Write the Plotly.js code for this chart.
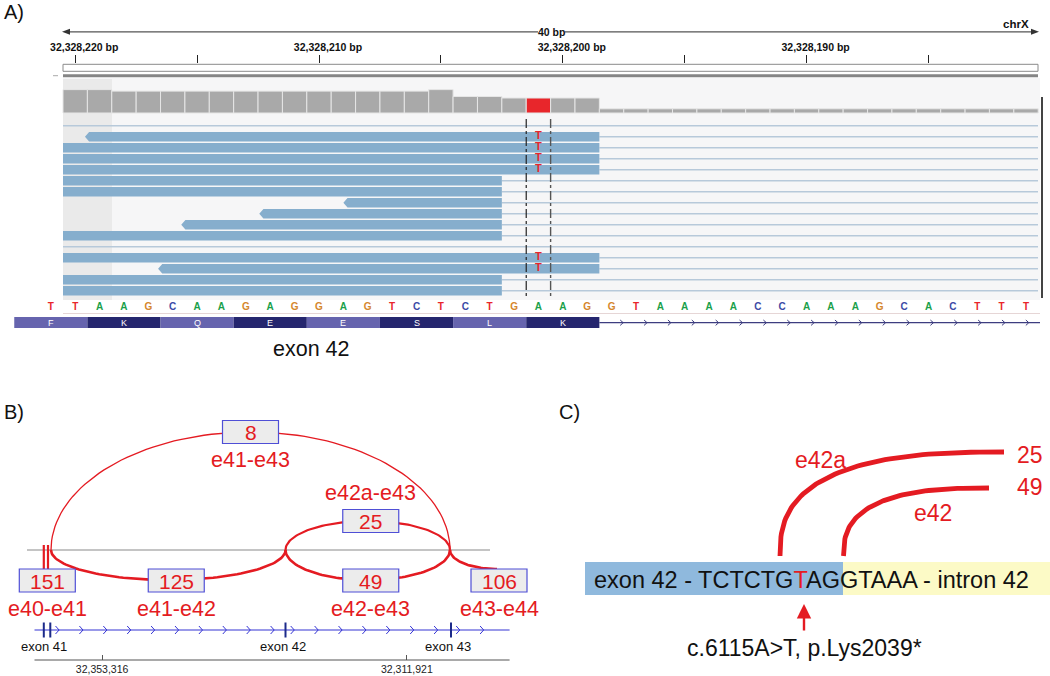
<!DOCTYPE html>
<html>
<head>
<meta charset="utf-8">
<script src="https://cdn.plot.ly/plotly-3.0.1.min.js"></script>
<style>html,body{margin:0;padding:0;background:#fff;}#chart{width:1050px;height:676px;}</style>
</head>
<body>
<div id="chart"></div>
<script>
// ================= DATA =================
// Panel A – IGV view of chrX (reverse strand, left = higher coordinate)
const covStart = 32328220;                       // leftmost full base of the window
const coverage = [78,78,73,73,73,73,73,73,73,73,73,73,73,73,73,78,55,55,50,50,50,50,
                  14,14,14,14,14,14,14,14,14,14,14,14,14,14,14,14,14,14];
const variantPos = 32328201;                     // c.6115A>T
const variantBase = "T";
const refSeqStart = 32328221;
const refSeq = "TTAAGCAAGAGGAGTCTCTGAAGGTAAAACCAAAGCACTTT";
const codonStart = 32328222;
const aminoAcids = ["F","K","Q","E","E","S","L","K"];
const exonLabelA = "exon 42";
const readRows   = [1,2,3,4,5,6,7,8,9,10,12,13,14,15];
const readStarts = [32328219.6,32328250,32328250,32328250,32328250,32328250,32328209.0,
                    32328212.45,32328215.65,32328250,32328250,32328216.6,32328250,32328250];
const readEnds   = [32328198.5,32328198.5,32328198.5,32328198.5,32328202.5,32328202.5,32328202.5,
                    32328202.5,32328202.5,32328202.5,32328198.5,32328198.5,32328202.5,32328202.5];
const mismatchRows = [1,2,3,4,12,13];
const readRowCount = 16;

// Panel B – sashimi of exons 40-44
const junctionNames = ["e40-e41","e41-e42","e41-e43","e42a-e43","e42-e43","e43-e44"];
const junctionReads = [151,125,8,25,49,106];
const junctionFrom  = [null,32360256,32360256,32328409,32328409,32306068];
const junctionTo    = [32360256,32328409,32306068,32306068,32306068,null];
const exonNames     = ["exon 41","exon 42","exon 43"];
const exonPositions = [32360800,32328409,32305932];
const exonMarks     = [32361234,32360351,32328409,32305932];
const geneSpan      = [32362497,32297975];
const scaleTicks    = [32353316,32311921];

// Panel C – donor sites
const seqLeft = "exon 42 - TCTCTG";
const seqVariant = "T";
const seqRight = "AGGTAAA - intron 42";
const isoformNames = ["e42a","e42"];
const isoformReads = [junctionReads[3], junctionReads[4]];
const variantLabel = "c.6115A>T, p.Lys2039*";

// ================= LAYOUT HELPERS =================
const W = 1050, H = 676;
const FONT = "Liberation Sans, Arial, Helvetica, sans-serif";
const RED = "#e41b22";
// axis calibration (pixel geometry of the reference)
const A_PX0 = 75.2, A_PXBP = 24.38;
const gA = p => covStart - (p - A_PX0) / A_PXBP;
const B_PX0 = 102.1, B_BPPX = 135.81, B_G0 = scaleTicks[0];
const gB = p => B_G0 - (p - B_PX0) * B_BPPX;
const pB = g => B_PX0 + (B_G0 - g) / B_BPPX;
const panelLeftG = gA(63), panelRightG = gA(1038);
const covPerPx = 110 / 33, covBase = 113;
const rowPx0 = 125.7, rowPitch = 11;

const traces = [];
const shapes = [];
const annotations = [];
const px = p => p / W, py = p => 1 - p / H;

function txt(text, x, y, size, color, o) {
  return Object.assign({text, x, y, xref:'x3', yref:'y3', showarrow:false,
    font:{family:FONT, size, color}, xanchor:'center', yanchor:'middle'}, o || {});
}
function prect(x0, y0, x1, y1, fill, line, o) {
  return Object.assign({type:'rect', xref:'x3', yref:'y3', x0, y0, x1, y1, fillcolor:fill,
    line: line || {width:0}}, o || {});
}
function pline(x0, y0, x1, y1, color, width, o) {
  return Object.assign({type:'line', xref:'x3', yref:'y3', x0, y0, x1, y1, line:{color, width}}, o || {});
}

// ================= PANEL A =================
annotations.push(txt("A)", 2, 12, 20, "#111", {xanchor:'left'}));
// backgrounds
shapes.push({type:'rect', xref:'paper', yref:'paper', x0:px(63), x1:px(1040), y0:py(300), y1:py(78),
  fillcolor:'#f6f6f7', line:{width:0}, layer:'below'});
shapes.push({type:'rect', xref:'paper', yref:'paper', x0:px(63), x1:px(112), y0:py(300), y1:py(79),
  fillcolor:'#eaeaea', line:{width:0}, layer:'below'});
// ruler
shapes.push(pline(66, 31.8, 538, 31.8, '#555', 1.3));
shapes.push(pline(565, 31.8, 1034, 31.8, '#555', 1.3));
shapes.push({type:'path', xref:'x3', yref:'y3', path:'M 62 31.8 L 70 28.8 L 70 34.8 Z', fillcolor:'#333', line:{width:0}});
shapes.push({type:'path', xref:'x3', yref:'y3', path:'M 1039 31.8 L 1031 28.8 L 1031 34.8 Z', fillcolor:'#333', line:{width:0}});
annotations.push(txt("40 bp", 551, 31.5, 10.5, '#111', {font:{family:FONT,size:10.5,color:'#111',weight:'bold'}}));
annotations.push(txt("chrX", 1031, 23.5, 11.5, '#111', {xanchor:'right', font:{family:FONT,size:11.5,color:'#111',weight:'bold'}}));
shapes.push(prect(63, 64.3, 1038, 71.3, '#fff', {color:'#8a8a8a', width:1}));
shapes.push(pline(63, 75.7, 1038, 75.7, '#858585', 3));
shapes.push(pline(53, 75.7, 58, 75.7, '#aaa', 1));
// right edge bar
shapes.push(pline(1042, 97, 1042, 298, '#444', 2));

// coverage
traces.push({type:'bar', x: coverage.map((_, i) => covStart - i), y: coverage, width: 1,
  marker:{color: coverage.map((_, i) => (covStart - i === variantPos) ? '#e8262b' : '#a9a9a9'),
          line:{color:'#e6e6e6', width:1}},
  xaxis:'x', yaxis:'y', hoverinfo:'skip'});

// thin (spliced) lines per row
{
  const lx = [], ly = [];
  for (let r = 0; r < readRowCount; r++) {
    let right = panelLeftG;
    readRows.forEach((rr, i) => { if (rr === r) right = Math.min(right, readEnds[i]); });
    lx.push(right, panelRightG, null); ly.push(r, r, null);
  }
  traces.push({type:'scatter', mode:'lines', x:lx, y:ly, line:{color:'#b7c9da', width:1.6},
    xaxis:'x', yaxis:'y2', hoverinfo:'skip'});
}
// reads
{
  const rx = [], ry = [], h = 0.43;
  readRows.forEach((r, i) => {
    const s = readStarts[i], e = readEnds[i];
    if (s >= panelLeftG) {
      const L = panelLeftG;
      rx.push(L, e, e, L, L, null); ry.push(r - h, r - h, r + h, r + h, r - h, null);
    } else {
      const b = s - 0.17;
      rx.push(s, b, e, e, b, s, null); ry.push(r, r - h, r - h, r + h, r + h, r, null);
    }
  });
  traces.push({type:'scatter', mode:'lines', x:rx, y:ry, fill:'toself', fillcolor:'#86aecd',
    line:{width:0, color:'#86aecd'}, xaxis:'x', yaxis:'y2', hoverinfo:'skip'});
}
// mismatches
traces.push({type:'scatter', mode:'text', x: mismatchRows.map(() => variantPos), y: mismatchRows,
  text: mismatchRows.map(() => variantBase),
  textfont:{family:FONT, size:11, color:'#e8262b', weight:'bold'}, xaxis:'x', yaxis:'y2', hoverinfo:'skip'});
// variant dashed guides
shapes.push({type:'line', xref:'x', yref:'y3', x0:variantPos + 0.5, x1:variantPos + 0.5, y0:119, y1:298,
  line:{color:'#222', width:1.2, dash:'dashdot'}});
shapes.push({type:'line', xref:'x', yref:'y3', x0:variantPos - 0.5, x1:variantPos - 0.5, y0:119, y1:298,
  line:{color:'#555', width:1.4, dash:'dashdot'}});

// reference sequence
const baseColors = {A:'#1a9f4a', C:'#3b4aa6', G:'#d5862c', T:'#e8262b'};
traces.push({type:'scatter', mode:'text', x: refSeq.split('').map((_, j) => refSeqStart - j),
  y: refSeq.split('').map(() => 307.5), text: refSeq.split(''),
  textfont:{family:FONT, size:10, weight:'bold', color: refSeq.split('').map(b => baseColors[b])},
  xaxis:'x', yaxis:'y3', hoverinfo:'skip'});
shapes.push(pline(63, 313.5, 1040, 313.5, '#e6d6d6', 1));
// translated gene track
aminoAcids.forEach((aa, i) => {
  const x0 = codonStart + 0.5 - 3 * i, x1 = codonStart + 0.5 - 3 * (i + 1);
  shapes.push({type:'rect', xref:'x', yref:'y3', x0, x1, y0:317, y1:328,
    fillcolor: i % 2 ? '#25266e' : '#6664ae', line:{width:0}});
  annotations.push({text:aa, x: codonStart - 1 - 3 * i, y:322.5, xref:'x', yref:'y3', showarrow:false,
    font:{family:FONT, size:9, color:'#fff'}});
});
{
  const lineStart = codonStart + 0.5 - 3 * aminoAcids.length;
  traces.push({type:'scatter', mode:'lines', x:[lineStart, gA(1040)], y:[322.7, 322.7],
    line:{color:'#3d3d80', width:1.2}, xaxis:'x', yaxis:'y3', hoverinfo:'skip'});
  const cx = [], cy = [];
  for (let p = 621.7; p < 1032; p += 23.86) {
    cx.push(p - 1.5, p + 1.5, p - 1.5, null); cy.push(320, 322.7, 325.4, null);
  }
  traces.push({type:'scatter', mode:'lines', x:cx, y:cy, line:{color:'#3d3d80', width:1},
    xaxis:'x3', yaxis:'y3', hoverinfo:'skip'});
}
annotations.push(txt(exonLabelA, 311, 349, 21.5, '#111'));

// ================= PANEL B =================
annotations.push(txt("B)", 2, 412, 20, '#111', {xanchor:'left'}));
shapes.push({type:'line', xref:'paper', yref:'paper', x0:px(27), x1:px(490), y0:py(550), y1:py(550),
  line:{color:'#b0b0b0', width:1.3}, layer:'below'});
const jStyle = [
  {boxPx:47.3, boxY:580.5, labelY:608.6, w:2.2, shift:0},
  {amp:30,   boxY:580.5, labelY:608.6, w:2.6, shift:8},
  {amp:-118, boxY:432,   labelY:460,   w:1.3, shift:0},
  {amp:-29,  boxY:521,   labelY:493,   w:2.2, shift:3},
  {amp:30,   boxY:580.5, labelY:608.6, w:2.6, shift:3},
  {boxPx:499, boxY:580.5, labelY:608.6, w:2.6, shift:0}
];
const baseY = 550;
junctionNames.forEach((name, i) => {
  const st = jStyle[i];
  const f = junctionFrom[i], t = junctionTo[i];
  let boxG;
  const ax = [], ay = [];
  if (f !== null && t !== null) {
    for (let k = 0; k <= 80; k++) {
      const th = Math.PI * k / 80;
      ax.push(f + (t - f) * (1 - Math.cos(th)) / 2);
      ay.push(baseY + st.amp * Math.sin(th));
    }
    boxG = (f + t) / 2;
  } else if (f === null) {
    const p = pB(t);
    ax.push(gB(p - 7.2), gB(p - 7.2), null, gB(p - 3), gB(p - 3));
    ay.push(545, 569, null, 545, 569);
    boxG = gB(st.boxPx);
  } else {
    const p = pB(f);
    for (let k = 0; k <= 40; k++) {
      const th = Math.PI / 2 * k / 40;
      ax.push(gB(p + 47 * (1 - Math.cos(th))));
      ay.push(baseY + 19 * Math.sin(th));
    }
    boxG = gB(st.boxPx);
  }
  traces.push({type:'scatter', mode:'lines', x:ax, y:ay, line:{color:RED, width:st.w},
    xaxis:'x2', yaxis:'y3', hoverinfo:'skip'});
  shapes.push({type:'rect', xref:'x2', yref:'y3', xsizemode:'pixel', xanchor:boxG,
    x0:-28 + st.shift, x1:28 + st.shift,
    y0:st.boxY - 11.5, y1:st.boxY + 11.5, fillcolor:'#ececec', line:{color:'#4f4fd6', width:1.2}});
  annotations.push({text:String(junctionReads[i]), x:boxG, xshift:st.shift, y:st.boxY + 0.5, xref:'x2', yref:'y3',
    showarrow:false, font:{family:FONT, size:21, color:RED}});
  annotations.push({text:name, x:boxG, xshift:st.shift, y:st.labelY, xref:'x2', yref:'y3',
    showarrow:false, font:{family:FONT, size:21.5, color:RED}});
});
// gene model
const geneY = 630;
traces.push({type:'scatter', mode:'lines', x:geneSpan, y:[geneY, geneY], line:{color:'#3434d4', width:1.2},
  xaxis:'x2', yaxis:'y3', hoverinfo:'skip'});
{
  const cx = [], cy = [];
  const segs = [[exonMarks[1], exonMarks[2]], [exonMarks[2], exonMarks[3]], [exonMarks[3], geneSpan[1]]];
  segs.forEach(([a, b]) => {
    const pa = pB(a), pbb = pB(b);
    for (let p = pa + 7; p < pbb - 4; p += 23.9) {
      cx.push(gB(p - 1.8), gB(p + 1.8), gB(p - 1.8), null); cy.push(geneY - 4, geneY, geneY + 4, null);
    }
  });
  traces.push({type:'scatter', mode:'lines', x:cx, y:cy, line:{color:'#3434d4', width:1},
    xaxis:'x2', yaxis:'y3', hoverinfo:'skip'});
  const mx = [], my = [];
  exonMarks.forEach(g => { mx.push(g, g, null); my.push(geneY - 7.5, geneY + 7.5, null); });
  traces.push({type:'scatter', mode:'lines', x:mx, y:my, line:{color:'#1c2a8a', width:2},
    xaxis:'x2', yaxis:'y3', hoverinfo:'skip'});
}
exonNames.forEach((n, i) => {
  annotations.push({text:n, x:exonPositions[i], y:646, xref:'x2', yref:'y3', xshift:-3, showarrow:false,
    font:{family:FONT, size:13, color:'#111'}});
});
const scaleY = 660;
traces.push({type:'scatter', mode:'lines', x:geneSpan, y:[scaleY, scaleY], line:{color:'#555', width:1.2},
  xaxis:'x2', yaxis:'y3', hoverinfo:'skip'});

// ================= PANEL C =================
annotations.push(txt("C)", 557, 412, 20, '#111', {xanchor:'left'}));
shapes.push(prect(585, 562, 843, 595, '#8fb9dd'));
shapes.push(prect(843, 562, 1050, 595, '#fcfac6'));
annotations.push(txt(seqLeft + '<span style="color:' + RED + '">' + seqVariant + '</span>' + seqRight,
  592, 579.5, 23.5, '#111', {xanchor:'left'}));
function superQuarter(x0, y0, x1, y1) {
  const xs = [], ys = [], e = 0.75;
  for (let k = 0; k <= 60; k++) {
    const th = Math.PI / 2 * k / 60;
    xs.push(x1 - (x1 - x0) * Math.pow(Math.cos(th), e));
    ys.push(y0 - (y0 - y1) * Math.pow(Math.sin(th), e));
  }
  return {xs, ys};
}
const cArcs = [superQuarter(780, 556, 1004, 452), superQuarter(843.5, 556, 989, 488)];
cArcs.forEach(a => traces.push({type:'scatter', mode:'lines', x:a.xs, y:a.ys, line:{color:RED, width:4.8},
  xaxis:'x3', yaxis:'y3', hoverinfo:'skip'}));
annotations.push(txt(isoformNames[0], 820, 460, 23, RED));
annotations.push(txt(isoformNames[1], 933, 513, 23, RED));
annotations.push(txt(String(isoformReads[0]), 1030, 455, 23, RED));
annotations.push(txt(String(isoformReads[1]), 1030, 487, 23, RED));
annotations.push({text:'', x:804, y:604, ax:804, ay:632, xref:'x3', yref:'y3', axref:'x3', ayref:'y3',
  showarrow:true, arrowhead:2, arrowsize:1.2, arrowwidth:2.4, arrowcolor:RED});
annotations.push(txt(variantLabel, 804, 648, 23, '#111'));

// ================= LAYOUT =================
const layout = {
  width:W, height:H, margin:{l:0, r:0, t:0, b:0, pad:0},
  paper_bgcolor:'#ffffff', plot_bgcolor:'rgba(0,0,0,0)', showlegend:false, hovermode:false,
  font:{family:FONT},
  xaxis:{domain:[0,1], range:[gA(0), gA(W)], anchor:'free', position:1 - 63 / H, side:'top',
    showgrid:false, zeroline:false, showline:false,
    tick0:covStart, dtick:10, ticks:'outside', ticklen:8, tickwidth:1, tickcolor:'#222',
    tickformat:',d', ticksuffix:' bp', ticklabelshift:-9,
    tickfont:{family:FONT, size:10.5, color:'#111', weight:'bold'},
    minor:{tick0:covStart, dtick:5, ticks:'outside', ticklen:8, tickwidth:1, tickcolor:'#222', showgrid:false}},
  xaxis2:{overlaying:'x', range:[gB(0), gB(W)], anchor:'free', position:1 - scaleY / H, side:'bottom',
    showgrid:false, zeroline:false, showline:false, tickmode:'array', tickvals:scaleTicks,
    ticks:'inside', ticklen:5, tickcolor:'#555', tickformat:',d', ticklabelstandoff:1,
    tickfont:{family:FONT, size:10.5, color:'#222'}},
  xaxis3:{overlaying:'x', range:[0, W], visible:false},
  yaxis:{domain:[0,1], range:[-(H - covBase) * covPerPx, covBase * covPerPx], visible:false, anchor:'x'},
  yaxis2:{overlaying:'y', range:[(H - rowPx0) / rowPitch, -rowPx0 / rowPitch], visible:false},
  yaxis3:{overlaying:'y', range:[H, 0], visible:false},
  shapes, annotations
};
Plotly.newPlot('chart', traces, layout, {staticPlot:true, displayModeBar:false});
</script>
</body>
</html>
